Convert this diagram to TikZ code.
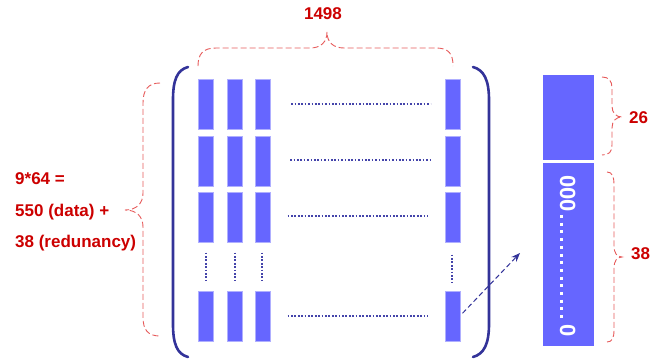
\documentclass[tikz,border=0pt]{standalone}
\usepackage{fontspec}
\setmainfont{Liberation Sans}
\usetikzlibrary{arrows.meta}
\definecolor{barblue}{RGB}{102,102,255}
\definecolor{baredge}{RGB}{175,175,255}
\definecolor{navy}{RGB}{51,51,153}
\definecolor{dotblue}{RGB}{68,68,170}
\definecolor{darkred}{RGB}{204,0,0}
\definecolor{bracered}{RGB}{230,90,90}
\begin{document}
\begin{tikzpicture}[x=1pt,y=-1pt,
  bar/.style={draw=baredge, line width=0.6pt, fill=barblue, minimum width=15pt, minimum height=50pt, inner sep=0pt, anchor=north west},
  bigbar/.style={fill=barblue, minimum width=51pt, inner sep=0pt, anchor=north west},
  hdots/.style={dotblue, line width=1.8pt, dash pattern=on 1.7pt off 1.7pt},
  paren/.style={navy, line width=2.6pt, line cap=round},
  bracep/.style={bracered, line width=0.9pt, dash pattern=on 6pt off 3pt},
  lbl/.style={text=darkred, font=\bfseries\fontsize{17}{20}\selectfont, inner sep=0pt},
  zeros/.style={text=white, font=\bfseries\fontsize{22}{24}\selectfont, inner sep=0pt, rotate=-90},
  linkarrow/.style={navy, line width=1pt, dash pattern=on 5pt off 3pt, -{Stealth[length=9pt,width=7pt]}}
]
\useasboundingbox (0,0) rectangle (664,362);

% matrix bars
\foreach \r/\y in {1/79,2/135.5,3/192,4/290.5}{
  \foreach \c/\x in {1/198,2/227,3/254.5,4/444.5}{
    \node[bar] (r\r c\c) at (\x,\y) {};
  }
}
% horizontal dotted lines
\draw[hdots, shorten <=21pt, shorten >=14pt] ([yshift=0.7pt]r1c3.east) -- ([yshift=0.7pt]r1c4.west);
\draw[hdots, shorten <=20pt, shorten >=14pt] ([yshift=0.7pt]r2c3.east) -- ([yshift=0.7pt]r2c4.west);
\draw[hdots, shorten <=17.5pt, shorten >=16.5pt] ([yshift=1pt]r3c3.east) -- ([yshift=1pt]r3c4.west);
\draw[hdots, shorten <=17.5pt, shorten >=16.5pt] (r4c3.east) -- (r4c4.west);
% vertical dotted lines
\foreach \c in {1,2,3}{
  \draw[hdots, shorten <=10pt, shorten >=10.5pt] (r3c\c.south) -- (r4c\c.north);
}
\draw[hdots, shorten <=12pt, shorten >=8.5pt] (r3c4.south) -- (r4c4.north);

% big parentheses
\draw[paren] (188,67) .. controls (177,70) and (173,80) .. (173,100) -- (173,324) .. controls (173,344) and (177,354) .. (188,357);
\draw[paren] (473,67) .. controls (484,70) and (489,80) .. (489,100) -- (489,324) .. controls (489,344) and (484,354) .. (473,357);

% column vector
\node[bigbar, minimum height=85pt] (vtop) at (543,75) {};
\node[bigbar, minimum height=183pt] (vbot) at (543,163) {};
\node[zeros, anchor=base west] (zt) at (560,175) {000};
\node[zeros, anchor=base east] (zb) at (560,337) {0};
\draw[white, line width=3pt, dash pattern=on 3pt off 4.7pt] (561.7,215) -- (561.7,322);

% arrow
\coordinate (aend) at (520,253);
\draw[linkarrow, shorten <=3.5pt] (r4c4.east) -- (aend);

% braces
\draw[bracep] (198,66) .. controls (198,54) and (203,48) .. (216,48) -- (310,48) .. controls (321,48) and (327,42) .. (327,32) .. controls (327,42) and (333,48) .. (344,48) -- (436,48) .. controls (449,48) and (453,54) .. (453,66);
\draw[bracep] (160,83) .. controls (148,83) and (143,90) .. (143,103) -- (143,193) .. controls (143,203) and (137,210) .. (125,210) .. controls (137,210) and (143,217) .. (143,227) -- (143,317) .. controls (143,330) and (148,336) .. (160,336);
\draw[bracep] (602,77) .. controls (609,77) and (612,81) .. (612,88) -- (612,106) .. controls (612,113) and (616,117) .. (622,117) .. controls (616,117) and (612,121) .. (612,128) -- (612,145) .. controls (612,152) and (609,155) .. (602,155);
\draw[bracep] (607,172) .. controls (612,172) and (614,176) .. (614,185) -- (614,246) .. controls (614,253) and (617,257) .. (622,257) .. controls (617,257) and (614,261) .. (614,268) -- (614,330) .. controls (614,338) and (612,342) .. (607,342);

% labels
\node[lbl, anchor=base] (l1498) at (323,19) {1498};
\node[lbl, anchor=base west] (la) at (15,184) {9*64 =};
\node[lbl, anchor=base west] (lb) at (15,216.5) {550 (data) +};
\node[lbl, anchor=base west] (lc) at (15,247) {38 (redunancy)};
\node[lbl, anchor=base west] (l26) at (629,123) {26};
\node[lbl, anchor=base west] (l38) at (631,259) {38};
\end{tikzpicture}
\end{document}
